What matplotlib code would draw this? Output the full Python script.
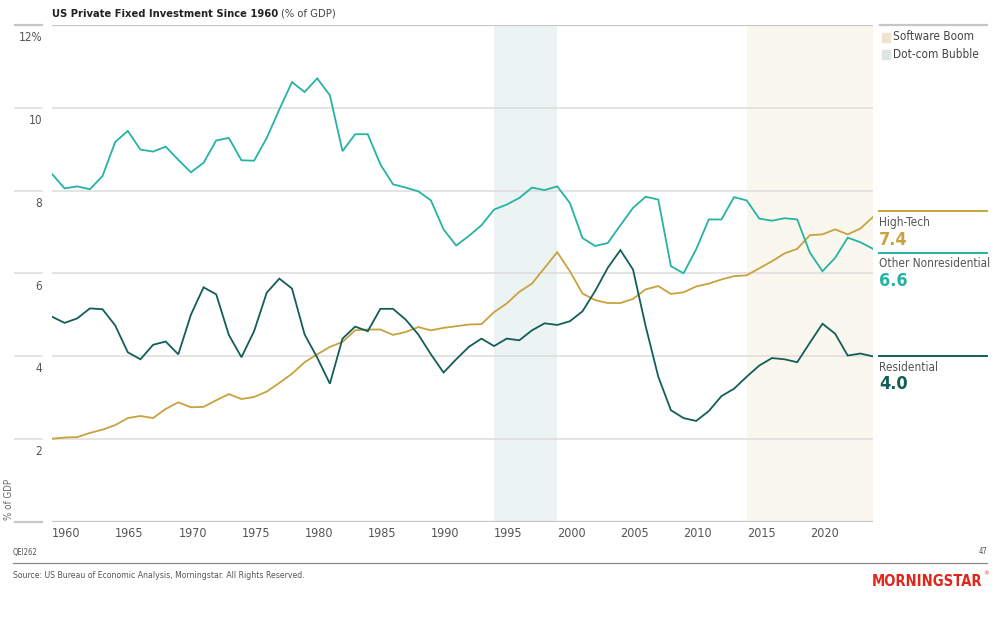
import matplotlib.pyplot as plt
from matplotlib.transforms import blended_transform_factory
from matplotlib.patches import Rectangle

plt.rcParams['font.family'] = ['DejaVu Sans']
plt.rcParams['font.stretch'] = 'condensed'

### data (% of GDP)
years = list(range(1960, 2026))

high_tech = [2.00, 2.03, 2.04, 2.14, 2.22, 2.33, 2.50, 2.55, 2.50, 2.72,
             2.88, 2.76, 2.77, 2.93, 3.08, 2.96, 3.01, 3.14, 3.35, 3.57,
             3.85, 4.04, 4.22, 4.34, 4.62, 4.64, 4.64, 4.51, 4.58, 4.70,
             4.62, 4.68, 4.72, 4.76, 4.77, 5.06, 5.27, 5.55, 5.75, 6.13,
             6.51, 6.05, 5.51, 5.35, 5.28, 5.28, 5.38, 5.61, 5.69, 5.50,
             5.54, 5.68, 5.75, 5.85, 5.93, 5.95, 6.12, 6.29, 6.48, 6.59,
             6.92, 6.94, 7.06, 6.94, 7.08, 7.36]

other_nonres = [8.40, 8.05, 8.10, 8.03, 8.35, 9.17, 9.44, 8.99, 8.94, 9.06,
                8.74, 8.44, 8.67, 9.21, 9.27, 8.73, 8.72, 9.27, 9.96, 10.62,
                10.38, 10.71, 10.30, 8.95, 9.36, 9.36, 8.63, 8.15, 8.07, 7.98,
                7.76, 7.06, 6.67, 6.90, 7.16, 7.54, 7.66, 7.82, 8.07, 8.01,
                8.10, 7.70, 6.85, 6.66, 6.73, 7.16, 7.58, 7.85, 7.78, 6.17,
                6.00, 6.58, 7.30, 7.30, 7.84, 7.76, 7.32, 7.27, 7.33, 7.30,
                6.50, 6.05, 6.37, 6.86, 6.75, 6.59]

residential = [4.95, 4.80, 4.91, 5.15, 5.13, 4.74, 4.09, 3.92, 4.27, 4.35,
               4.04, 5.00, 5.66, 5.49, 4.51, 3.97, 4.60, 5.53, 5.87, 5.63,
               4.52, 3.96, 3.33, 4.42, 4.71, 4.60, 5.14, 5.14, 4.88, 4.52,
               4.04, 3.60, 3.92, 4.22, 4.42, 4.24, 4.42, 4.38, 4.62, 4.79,
               4.75, 4.84, 5.08, 5.57, 6.13, 6.56, 6.09, 4.72, 3.50, 2.69,
               2.50, 2.43, 2.67, 3.03, 3.21, 3.50, 3.77, 3.95, 3.92, 3.85,
               4.32, 4.78, 4.54, 4.01, 4.06, 3.99]

series_names = ['High-Tech', 'Other Nonresidential', 'Residential']
series_values = [high_tech, other_nonres, residential]
series_colors = ['#c9a23f', '#25b3a3', '#135e57']
end_labels = ['7.4', '6.6', '4.0']
label_y = [7.5, 6.5, 4.0]   # where the right-hand labels sit

periods = ['Software Boom', 'Dot-com Bubble']
period_spans = [(2015, 2025), (1995, 2000)]
period_colors = ['#faf7ee', '#ecf3f3']
period_legend_colors = ['#eee4cd', '#dde5e5']

yticks = [0, 2, 4, 6, 8, 10, 12]
ytick_labels = ['', '2', '4', '6', '8', '10', '12%']
xticks = list(range(1960, 2025, 5))

W, H = 1006, 625
fig = plt.figure(figsize=(W / 100, H / 100), dpi=100)
ax = fig.add_axes([52 / W, 1 - 521.5 / H, 821 / W, 496.5 / H])

# shaded periods
for span, c in zip(period_spans, period_colors):
    ax.axvspan(span[0], span[1], color=c, lw=0, zorder=0)

# gridlines, plus the short stubs left of the plot
trans = blended_transform_factory(fig.transFigure, ax.transData)
for v, lab in zip(yticks, ytick_labels):
    edge = v in (0, 12)
    col = '#c6c6c6' if edge else '#dcdcdc'
    lw = 1.6 if edge else 1.1
    ax.axhline(v, color=col, lw=lw, zorder=1)
    ax.plot([15 / W, 42 / W], [v, v], transform=trans, color=col, lw=lw, clip_on=False)
    if lab:
        ax.annotate(lab, xy=(42 / W, v), xycoords=('figure fraction', 'data'),
                    xytext=(0, -4.5), textcoords='offset points',
                    ha='right', va='top', fontsize=8.5, color='#555555')

# the three series
for vals, c in zip(series_values, series_colors):
    ax.plot(years, vals, color=c, lw=1.3, zorder=3, solid_joinstyle='miter')

# right-hand labels
for name, val, c, ly in zip(series_names, end_labels, series_colors, label_y):
    ax.plot([879 / W, 987 / W], [ly, ly], transform=trans, color=c, lw=1.4, clip_on=False)
    ax.annotate(name, xy=(879 / W, ly), xycoords=('figure fraction', 'data'),
                xytext=(0, -3.5), textcoords='offset points',
                ha='left', va='top', fontsize=8.5, color='#555555')
    ax.annotate(val, xy=(879 / W, ly), xycoords=('figure fraction', 'data'),
                xytext=(0, -14), textcoords='offset points',
                ha='left', va='top', fontsize=13, fontweight='bold', color=c)

# legend for the shaded periods
ax.plot([880 / W, 987 / W], [12, 12], transform=trans, color='#c6c6c6', lw=1.6, clip_on=False)
for i, (p, c) in enumerate(zip(periods, period_legend_colors)):
    yc = 1 - (37 + 17 * i) / H
    fig.add_artist(Rectangle((882 / W, yc - 4.5 / H), 8 / W, 9 / H, color=c,
                             transform=fig.transFigure))
    fig.text(893 / W, yc, p, fontsize=8.5, color='#444444', va='center', ha='left')

ax.set_xlim(1960, 2025)
ax.set_ylim(0, 12)
for s in ax.spines.values():
    s.set_visible(False)
ax.set_yticks([])
ax.set_xticks(xticks)
ax.set_xticklabels([str(x) for x in xticks])
ax.tick_params(axis='x', length=0, pad=4, labelsize=9, labelcolor='#555555')
for lab in ax.get_xticklabels():
    lab.set_ha('left')

ax.annotate('% of GDP', xy=(9 / W, 0), xycoords=('figure fraction', 'data'),
            xytext=(0, 1), textcoords='offset points', rotation=90,
            ha='center', va='bottom', fontsize=7, color='#666666')

# title
t = fig.text(52 / W, 1 - 14 / H, 'US Private Fixed Investment Since 1960', fontsize=8,
             fontweight='bold', color='#222222', va='center', ha='left')
fig.canvas.draw()
bb = t.get_window_extent()
fig.text(bb.x1 / W + 3 / W, 1 - 14 / H, '(% of GDP)', fontsize=8, color='#444444',
         va='center', ha='left')

# footer
fig.text(13 / W, 1 - 552 / H, 'QEI262', fontsize=5.5, color='#555555', va='center')
fig.text(987 / W, 1 - 552 / H, '47', fontsize=5.5, color='#555555', va='center', ha='right')
fig.add_artist(plt.Line2D([13 / W, 987 / W], [1 - 563 / H, 1 - 563 / H],
                          transform=fig.transFigure, color='#8a8a8a', lw=0.9))
fig.text(13 / W, 1 - 576 / H, 'Source: US Bureau of Economic Analysis, Morningstar. All Rights Reserved.',
         fontsize=6.2, color='#555555', va='center')
fig.text(982 / W, 1 - 581 / H, 'MORNINGSTAR', fontsize=10.5, fontweight='bold',
         color='#e1251b', va='center', ha='right')
fig.text(983 / W, 1 - 574 / H, '®', fontsize=4.5, color='#e1251b', va='center', ha='left')

fig.savefig('out.png', dpi=100)
